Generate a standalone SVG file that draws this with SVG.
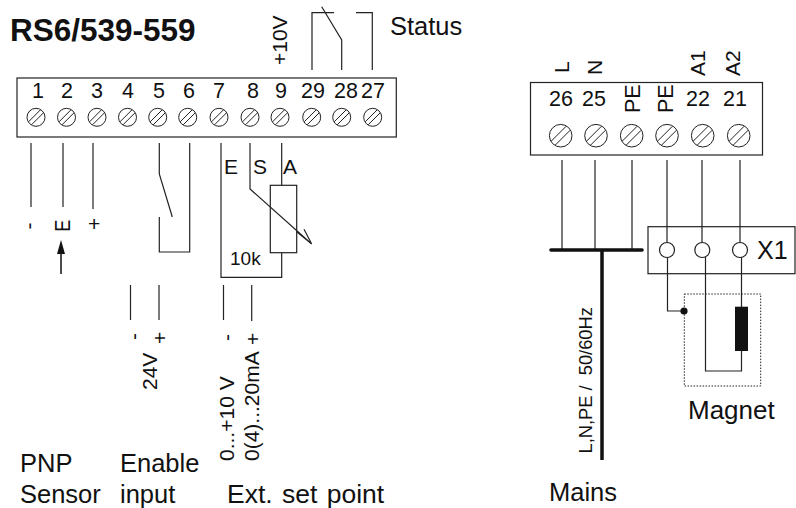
<svg xmlns="http://www.w3.org/2000/svg" width="796" height="508" viewBox="0 0 796 508">
<style>
text{font-family:"Liberation Sans",Arial,sans-serif;fill:#111}
.n{font-size:21.5px}.c{font-size:21.5px;text-anchor:middle}.l{font-size:25.5px}.m{font-size:21px}
.w{fill:none;stroke:#222;stroke-width:1.2}
.b{fill:#fff;stroke:#222;stroke-width:1.2}
.t{fill:none;stroke:#111;stroke-width:3.6;stroke-linecap:round}
</style>
<defs>
<g id="screw" fill="none" stroke="#222" stroke-width="1"><circle r="9"/><path d="M-7.5 4.5 4.5-7.5M-4.5 7.5 7.5-4.5"/></g>
<g id="screwL" fill="none" stroke="#222" stroke-width="1"><circle r="11.3"/><path d="M-9.5 5.5 5.5-9.5M-5.5 9.5 9.5-5.5"/></g>
</defs>
<rect width="796" height="508" fill="#fff"/>
<text id="title" x="10" y="40.5" font-size="31.5" font-weight="700">RS6/539-559</text>
<g id="block-left">
<rect class="b" x="17" y="78" width="379.3" height="59"/>
<g class="c">
<text x="38" y="98">1</text><text x="67" y="98">2</text><text x="97" y="98">3</text><text x="128" y="98">4</text><text x="159" y="98">5</text><text x="189" y="98">6</text><text x="219" y="98">7</text><text x="253" y="98">8</text><text x="281" y="98">9</text><text x="313" y="98">29</text><text x="346" y="98">28</text><text x="373" y="98">27</text>
</g>
<use href="#screw" x="36" y="117.3"/><use href="#screw" x="66.5" y="117.3"/><use href="#screw" x="97" y="117.3"/><use href="#screw" x="127.5" y="117.3"/><use href="#screw" x="157.7" y="117.3"/><use href="#screw" x="187.7" y="117.3"/><use href="#screw" x="219" y="117.3"/><use href="#screw" x="250" y="117.3"/><use href="#screw" x="280" y="117.3"/><use href="#screw" x="311.7" y="117.3"/><use href="#screw" x="341.7" y="117.3"/><use href="#screw" x="372.7" y="117.3"/>
</g>
<g id="block-right">
<rect class="b" x="530.5" y="82.5" width="232" height="72.5"/>
<text class="n" x="549" y="106">26</text><text class="n" x="582" y="106">25</text><text class="n" x="686" y="106">22</text><text class="n" x="723" y="106">21</text>
<text class="n" transform="translate(640 113) rotate(-90)">PE</text><text class="n" transform="translate(673 113) rotate(-90)">PE</text>
<use href="#screwL" x="560.7" y="135.7"/><use href="#screwL" x="596" y="135.7"/><use href="#screwL" x="631.7" y="135.7"/><use href="#screwL" x="667" y="135.7"/><use href="#screwL" x="702.7" y="135.7"/><use href="#screwL" x="738.7" y="135.7"/>
</g>
<g id="connectors">
<path class="w" d="M31 143V207M63 143V207M93 143V209M159.3 143V174L172.3 217M159.3 217V252H189.7V143M221 143V277.3H281.7V252.7M281.7 143V185.3M250 143V189L311.7 244L296.7 231.7M311.7 244L304 229.3M130.5 285V320M159 285V320M223.5 285V320M251.7 285V321"/>
<path class="w" d="M312 70V12.7H334M321.7 6.7 341.7 40V70M356 12.7H372.3V70"/>
<path class="w" d="M562 160V250M595 160V250M632 160V250M667 160V243M702 160V243M740 160V243M667.5 257V311H684M705.5 257V371H741.5V257"/>
<path d="M61 274V252" stroke="#111" stroke-width="1.5" fill="none"/>
<path d="M61 240 65 254H57Z" fill="#111"/>
<path class="t" d="M551 250H642"/>
<path d="M602 250V460" stroke="#111" stroke-width="3.5" fill="none"/>
</g>
<g id="resistor"><rect x="270.3" y="185.3" width="26.4" height="67.4" fill="none" stroke="#222" stroke-width="1.2"/><text x="230" y="265" font-size="19">10k</text></g>
<g id="x1">
<rect x="648" y="226.7" width="147" height="47" fill="none" stroke="#222" stroke-width="1.2"/>
<circle cx="667" cy="250" r="7.5" fill="#fff" stroke="#222" stroke-width="1.2"/><circle cx="702.3" cy="250" r="7.5" fill="#fff" stroke="#222" stroke-width="1.2"/><circle cx="740" cy="250" r="7.5" fill="#fff" stroke="#222" stroke-width="1.2"/>
<text x="757" y="259" font-size="25">X1</text>
</g>
<g id="magnet">
<rect x="684.3" y="294" width="76.4" height="92" fill="none" stroke="#222" stroke-width="1" stroke-dasharray="1.5 1.5"/>
<circle cx="684" cy="311" r="3.6" fill="#111"/>
<rect x="735" y="306.7" width="13" height="44.3" fill="#111"/>
<text x="688" y="419" font-size="26">Magnet</text>
</g>
<g id="labels">
<text class="l" x="390" y="34.7">Status</text>
<text class="m" transform="translate(287 65) rotate(-90)">+10V</text>
<text class="m" transform="translate(569 73) rotate(-90)">L</text>
<text class="m" transform="translate(602 75) rotate(-90)">N</text>
<text class="m" transform="translate(705 76) rotate(-90)">A1</text>
<text class="m" transform="translate(740 76) rotate(-90)">A2</text>
<text font-size="18.3" style="white-space:pre" transform="translate(591.7 453.5) rotate(-90)">L,N,PE /  50/60Hz</text>
<text transform="translate(70 231.7) rotate(-90) scale(.82 1)" font-size="22">E</text>
<text class="m" transform="translate(36 229.5) rotate(-90)">-</text>
<text class="m" x="88" y="231">+</text>
<text class="m" x="224" y="173.5">E</text><text class="m" x="253" y="173.5">S</text><text class="m" x="283" y="173.5">A</text>
<text class="m" transform="translate(140.5 340) rotate(-90)">-</text>
<text class="m" transform="translate(167 344) rotate(-90)">+</text>
<text class="m" transform="translate(156.7 390) rotate(-90)">24V</text>
<text class="m" transform="translate(234 341) rotate(-90)">-</text>
<text class="m" transform="translate(260 345) rotate(-90)">+</text>
<text class="m" transform="translate(234 461) rotate(-90)">0...+10 V</text>
<text class="m" transform="translate(259 461) rotate(-90)">0(4)...20mA</text>
<text class="l" x="20" y="472">PNP</text><text class="l" x="20" y="503">Sensor</text>
<text class="l" x="120" y="472">Enable</text><text class="l" x="120" y="503">input</text>
<text x="227" y="503" font-size="26.5" word-spacing="2">Ext. set point</text>
<text class="l" x="549" y="501">Mains</text>
</g>
</svg>
